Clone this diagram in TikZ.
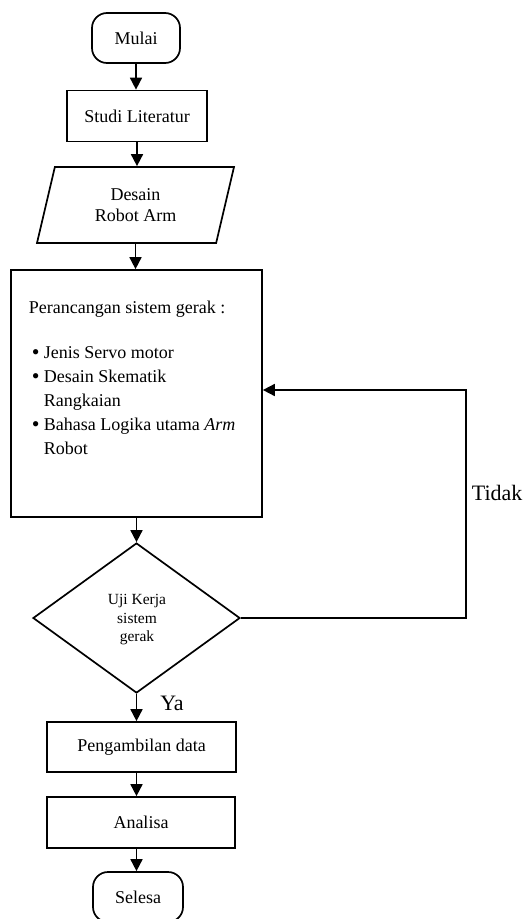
\documentclass[tikz,border=0pt]{standalone}
\usepackage{fontspec}
\setmainfont{Liberation Serif}
\usetikzlibrary{shapes.geometric,arrows.meta}
\begin{document}
\begin{tikzpicture}[x=1pt,y=-1pt,
  line width=1.7pt,
  every node/.style={inner sep=0pt, font=\fontsize{18}{21.5}\selectfont},
  terminal/.style={draw, rounded corners=15pt, minimum width=#1, minimum height=50pt},
  procbox/.style={draw, rectangle, minimum height=50pt},
  flow/.style={-{Triangle[length=12pt,width=12pt]}}
]
\useasboundingbox (0,0) rectangle (525,919);
\node[terminal=88pt] (mulai) at (136,38) {\raisebox{-3pt}{Mulai}};
\node[procbox, minimum width=140pt, minimum height=51pt] (studi) at (137,116) {Studi Literatur};
\node[draw, trapezium, trapezium left angle=62, trapezium right angle=118,
      trapezium stretches body, minimum width=197pt, minimum height=76pt, align=center] (desain) at (135.5,205) {Desain\\Robot Arm};
\node[procbox, minimum width=251pt, minimum height=247pt] (rancang) at (136.5,393.5) {};
\node[anchor=north west, align=left, font=\fontsize{18}{24}\selectfont] (rancangtext) at (28,300)
  {Perancangan sistem gerak :\\[21pt]
   \hspace*{3pt}\makebox[12pt][l]{\fontsize{22}{24}\selectfont\raisebox{-1pt}{\textbullet}}Jenis Servo motor\\
   \hspace*{3pt}\makebox[12pt][l]{\fontsize{22}{24}\selectfont\raisebox{-1pt}{\textbullet}}Desain Skematik\\
   \hspace*{15pt}Rangkaian\\
   \hspace*{3pt}\makebox[12pt][l]{\fontsize{22}{24}\selectfont\raisebox{-1pt}{\textbullet}}Bahasa Logika utama \textit{Arm}\\
   \hspace*{15pt}Robot};
\node[draw, diamond, minimum width=207pt, minimum height=150pt] (uji) at (136.5,618) {};
\node[align=center, font=\fontsize{15.5}{18.5}\selectfont] (ujitext) at (137,620) {Uji Kerja\\sistem\\gerak};
\node[procbox, minimum width=189pt] (ambil) at (141.5,747) {Pengambilan data};
\node[procbox, minimum width=188pt, minimum height=51pt] (analisa) at (141,822.5) {Analisa};
\node[terminal=90pt] (selesa) at (138,897) {\raisebox{-4pt}{Selesa}};
\coordinate (loopbot) at (466,618);
\coordinate (looptop) at (466,390);
\draw[flow] (mulai.south) -- (mulai.south |- studi.north);
\draw[flow] (studi.south) -- (studi.south |- desain.north);
\draw[flow] (desain.south) -- (desain.south |- rancang.north);
\draw[flow] (rancang.south) -- (rancang.south |- uji.north);
\draw[flow] (uji.south) -- (uji.south |- ambil.north);
\draw[flow] (uji.south |- ambil.south) -- (uji.south |- analisa.north);
\draw[flow] (uji.south |- analisa.south) -- (uji.south |- selesa.north);
\draw[flow] (uji.east) -- (loopbot) -- (looptop) -- (looptop -| rancang.east);
\node[anchor=west, font=\fontsize{22}{26}\selectfont] (tidak) at (471,493) {Tidak};
\node[font=\fontsize{22}{26}\selectfont] (ya) at (172,703) {Ya};
\end{tikzpicture}
\end{document}
